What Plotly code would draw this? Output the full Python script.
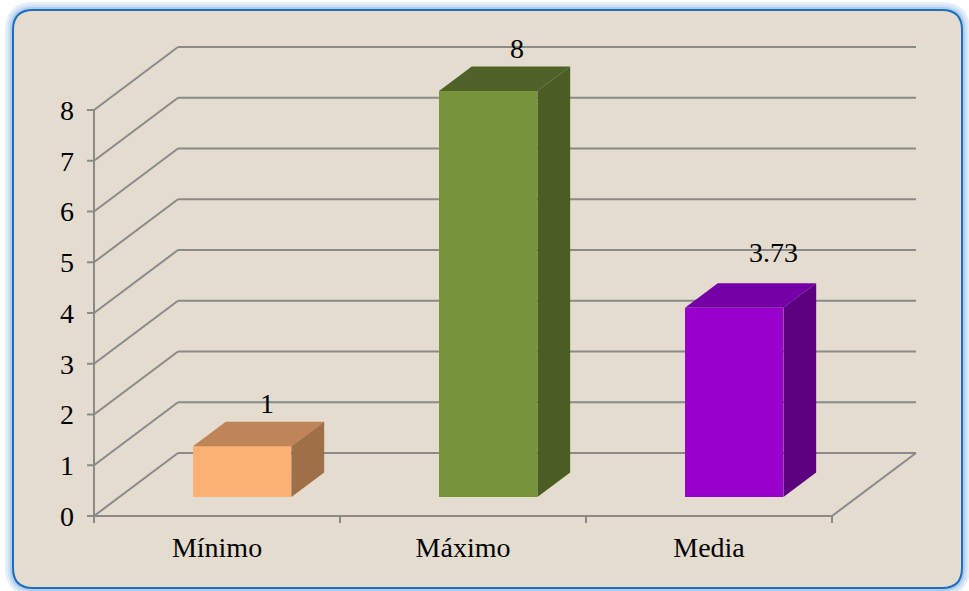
import plotly.graph_objects as go

# ---------------- data ----------------
categories = ["Mínimo", "Máximo", "Media"]
values = [1, 8, 3.73]
value_labels = ["1", "8", "3.73"]
y_ticks = [0, 1, 2, 3, 4, 5, 6, 7, 8]

# ---------------- styles ----------------
front_colors = ["#FBB074", "#77933C", "#9A00CC"]
top_colors = ["#BF8458", "#4F6228", "#7400A6"]
side_colors = ["#9F6F47", "#4A5E24", "#5D0080"]
label_shift = [(8, 18), (12, 18), (23, 31)]   # px offsets of data labels (style)
GRID = "#8A8A8A"
BG = "#E3DCCF"
FONT = "Liberation Serif, Times New Roman, serif"

W, H = 969, 591
ORIG_X, ORIG_Y = 94, 516           # pixel of the front-left floor corner
PX_X, PX_Y = 246.0, 50.75          # px per category / per value unit
L, R, T, B = 80, 969 - 930, 30, 591 - 530
X0 = -0.5 + (L - ORIG_X) / PX_X
X1 = -0.5 + (W - R - ORIG_X) / PX_X
Y0 = (ORIG_Y - (H - B)) / PX_Y
Y1 = (ORIG_Y - T) / PX_Y
DX, DY = 84 / PX_X, 63 / PX_Y      # depth of the floor (oblique projection)
F0, F1 = 0.30, 0.69                # bar depth fraction (front, back)
BW = 0.40                          # bar width
n = len(categories)

fig = go.Figure()

# front faces
base = F0 * DY
fig.add_trace(go.Bar(
    x=[i + F0 * DX for i in range(n)], y=values, base=[base] * n, width=BW,
    marker=dict(color=front_colors, line=dict(width=0)),
    hoverinfo="skip", showlegend=False))

ddx, ddy = (F1 - F0) * DX, (F1 - F0) * DY
for i, v in enumerate(values):
    xa = i + F0 * DX - BW / 2
    xb = xa + BW
    top = base + v
    fig.add_trace(go.Scatter(   # top face
        x=[xa, xb, xb + ddx, xa + ddx, xa], y=[top, top, top + ddy, top + ddy, top],
        fill="toself", fillcolor=top_colors[i], mode="lines", line=dict(width=0),
        hoverinfo="skip", showlegend=False))
    fig.add_trace(go.Scatter(   # side face
        x=[xb, xb + ddx, xb + ddx, xb, xb], y=[base, base + ddy, top + ddy, top, base],
        fill="toself", fillcolor=side_colors[i], mode="lines", line=dict(width=0),
        hoverinfo="skip", showlegend=False))

shapes = []

def px2paper(px, py):
    return (px - L) / (W - L - R), (H - B - py) / (H - T - B)

def rounded_path(left, top, right, bottom, r):
    def P(x, y):
        a, b = px2paper(x, y)
        return f"{a:.5f},{b:.5f}"
    return (f"M {P(left + r, top)} L {P(right - r, top)} Q {P(right, top)} {P(right, top + r)} "
            f"L {P(right, bottom - r)} Q {P(right, bottom)} {P(right - r, bottom)} "
            f"L {P(left + r, bottom)} Q {P(left, bottom)} {P(left, bottom - r)} "
            f"L {P(left, top + r)} Q {P(left, top)} {P(left + r, top)} Z")

frame = rounded_path(13, 10, 962, 588, 20)
for w, c in [(16, "#E4EFFA"), (11, "#CFE1F4"), (6, "#B0CDEC")]:
    shapes.append(dict(type="path", path=frame, xref="paper", yref="paper", layer="below",
                       line=dict(color=c, width=w), fillcolor="rgba(0,0,0,0)"))
shapes.append(dict(type="path", path=frame, xref="paper", yref="paper", layer="below",
                   line=dict(color="#1E6EBF", width=2), fillcolor=BG))

def seg(xa, ya, xb, yb):
    shapes.append(dict(type="line", xref="x", yref="y", layer="below",
                       x0=xa, y0=ya, x1=xb, y1=yb, line=dict(color=GRID, width=2)))

left, right = -0.5, n - 0.5
for v in y_ticks:
    seg(left, v, left + DX, v + DY)                # side wall
    seg(left + DX, v + DY, right + DX, v + DY)     # back wall
    shapes.append(dict(type="line", xref="x", yref="y", layer="below",   # value ticks
                       xsizemode="pixel", xanchor=left, x0=-7, x1=0, y0=v, y1=v,
                       line=dict(color=GRID, width=2)))
seg(left, 0, right, 0)                             # front floor edge
seg(right, 0, right + DX, DY)                      # right floor edge
seg(left, 0, left, y_ticks[-1])                    # value axis line
for k in range(n + 1):                             # category boundary ticks
    shapes.append(dict(type="line", xref="x", yref="y", layer="below",
                       ysizemode="pixel", yanchor=0, x0=left + k, x1=left + k,
                       y0=-7, y1=0, line=dict(color=GRID, width=2)))

annotations = []
for i, v in enumerate(values):
    annotations.append(dict(
        x=i + F0 * DX + ddx / 2, y=base + v + ddy, xref="x", yref="y",
        text=value_labels[i], showarrow=False, yanchor="middle",
        xshift=label_shift[i][0], yshift=label_shift[i][1],
        font=dict(family=FONT, size=28, color="black")))

fig.update_layout(
    width=W, height=H, margin=dict(l=L, r=R, t=T, b=B),
    paper_bgcolor="white", plot_bgcolor="rgba(0,0,0,0)",
    shapes=shapes, annotations=annotations, bargap=0,
    font=dict(family=FONT, size=28, color="black"),
    xaxis=dict(range=[X0, X1], tickvals=list(range(n)), ticktext=categories,
               ticks="", showgrid=False, zeroline=False, showline=False,
               ticklabelstandoff=-2, fixedrange=True),
    yaxis=dict(range=[Y0, Y1], tickvals=y_ticks, ticks="", showgrid=False,
               zeroline=False, showline=False, ticklabelstandoff=5, fixedrange=True),
)

fig.write_html("out.html")
